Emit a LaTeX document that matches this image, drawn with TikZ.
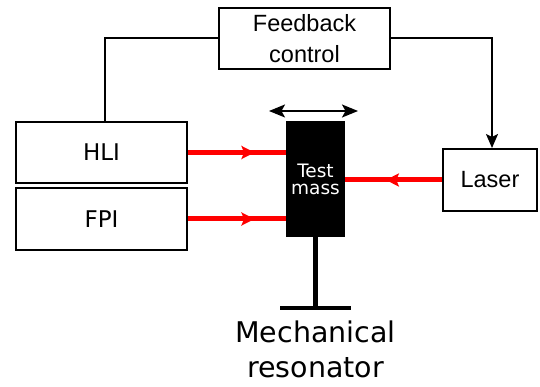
\documentclass[tikz,border=0pt]{standalone}
\usepackage{fontspec}
\setmainfont{Liberation Sans}
\newfontfamily\dejavu{DejaVu Sans}
\usetikzlibrary{arrows.meta,decorations.markings}

\begin{document}
\begin{tikzpicture}[x=1pt,y=-1pt,
  box/.style={draw,line width=2pt,minimum width=171pt,minimum height=61pt,
    inner sep=0pt,align=center},
  wire/.style={line width=2pt},
  beam/.style={draw=red,line width=5pt},
  beamtip/.style={postaction={decorate},decoration={markings,
    mark=at position #1 with {\arrow[red]{Stealth[length=13pt,width=13pt,inset=2.5pt]}}}},
  lbl/.style={font=\fontsize{23.5}{31}\selectfont}
]
\useasboundingbox (0,0) rectangle (540,387);

% blocks
\node[box,lbl] (fb) at (304.5,38.5) {Feedback\\control};
\node[box,font=\dejavu\fontsize{23}{28}\selectfont] (hli) at (101.5,152.5) {HLI};
\node[box,font=\dejavu\fontsize{23}{28}\selectfont] (fpi) at (101.5,219) {FPI};
\node[box,lbl,minimum width=94pt,minimum height=62pt] (laser) at (490,180) {Laser};
\node[fill=black,minimum width=59pt,minimum height=116pt,inner sep=0pt,
  text=white,align=center,font=\dejavu\fontsize{18.5}{17}\selectfont]
  (mass) at (315.5,179) {Test\\mass};

% control loop
\draw[wire] (fb.west) -| ([xshift=3pt]hli.north);
\draw[wire,-{Stealth[length=14pt,width=12pt,inset=3pt]}] (fb.east) -| ([xshift=2pt]laser.north);

% motion of the test mass
\coordinate (mvl) at (269,111);
\coordinate (mvr) at (358,111);
\draw[line width=1.6pt,{Stealth[length=16pt,width=13pt,inset=3.5pt]}-{Stealth[length=16pt,width=13pt,inset=3.5pt]}] (mvl) -- (mvr);

% optical beams
\draw[beam,beamtip=0.68] (hli.east) -- (mass.west |- hli.east);
\draw[beam,beamtip=0.68] (fpi.east) -- (mass.west |- fpi.east);
\draw[beam,beamtip=0.58] (laser.west) -- (mass.east |- laser.west);

% mechanical support
\coordinate (foot) at (315.5,308);
\coordinate (footl) at (280,308);
\coordinate (footr) at (351,308);
\draw[line width=4.5pt] (mass.south) -- (foot);
\draw[line width=4.5pt] (footl) -- (footr);
\node[anchor=base,align=center,font=\dejavu\fontsize{28.5}{35}\selectfont]
  (res) at (315.5,377) {Mechanical\\resonator};
\end{tikzpicture}
\end{document}
